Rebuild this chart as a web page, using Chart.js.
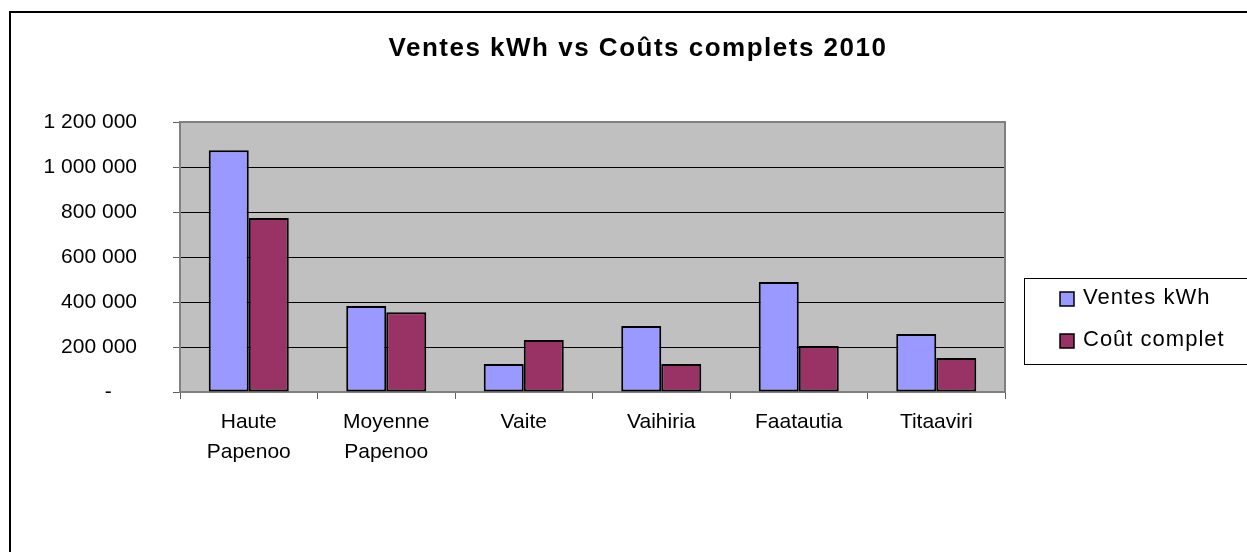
<!DOCTYPE html>
<html>
<head>
<meta charset="utf-8">
<script src="https://cdn.jsdelivr.net/npm/chart.js@4"></script>
<style>
  body { margin: 0; background: white; }
  #wrap { width: 1247px; height: 552px; }
</style>
</head>
<body>
<div id="wrap"><canvas id="myChart" width="1247" height="552"></canvas></div>
<script>
const titre = "Ventes kWh vs Coûts complets 2010";
const centrales = [["Haute", "Papenoo"], ["Moyenne", "Papenoo"], "Vaite", "Vaihiria", "Faatautia", "Titaaviri"];
const ventesKwh = [1075000, 382000, 124000, 293000, 489000, 258000];
const coutComplet = [773000, 355000, 231000, 124000, 204000, 151000];
const yTicks = [0, 200000, 400000, 600000, 800000, 1000000, 1200000];

const formatNombre = (v) => {
  if (v === 0) return "-\u2002\u2002\u2009";
  return v.toString().replace(/\B(?=(\d{3})+(?!\d))/g, " ");
}

// fond gris, cadre du graphique, titre et légende
const decor = {
  id: "decor",
  beforeDraw(chart) {
    const { ctx, chartArea } = chart;
    ctx.save();
    ctx.fillStyle = "white";
    ctx.fillRect(0, 0, chart.width, chart.height);
    ctx.strokeStyle = "black";
    ctx.lineWidth = 2;
    ctx.strokeRect(10, 12, 1300, 600);
    ctx.fillStyle = "#C0C0C0";
    ctx.fillRect(chartArea.left, chartArea.top, chartArea.right - chartArea.left, chartArea.bottom - chartArea.top);

    ctx.fillStyle = "black";
    ctx.font = "bold 26px 'Liberation Sans', Arial, sans-serif";
    ctx.letterSpacing = "1.5px";
    ctx.textAlign = "center";
    ctx.textBaseline = "middle";
    ctx.fillText(titre, 638, 49);
    ctx.restore();
  },
  beforeDatasetsDraw(chart) {
    const { ctx, chartArea } = chart;
    ctx.save();
    ctx.strokeStyle = "#808080";
    ctx.lineWidth = 2;
    ctx.strokeRect(chartArea.left, chartArea.top, chartArea.right - chartArea.left, chartArea.bottom - chartArea.top);
    ctx.restore();
  },
  afterDraw(chart) {
    const { ctx } = chart;
    ctx.save();
    ctx.strokeStyle = "black";
    ctx.lineWidth = 1;
    ctx.strokeRect(1024.5, 278.5, 300, 86);
    ctx.font = "22px 'Liberation Sans', Arial, sans-serif";
    ctx.letterSpacing = "1px";
    ctx.textAlign = "left";
    ctx.textBaseline = "middle";
    chart.data.datasets.forEach((ds, i) => {
      const y = 299 + i * 42;
      ctx.fillStyle = ds.backgroundColor;
      ctx.fillRect(1060, y - 7, 14, 14);
      ctx.lineWidth = 1.5;
      ctx.strokeRect(1060, y - 7, 14, 14);
      ctx.fillStyle = "black";
      ctx.fillText(ds.label, 1083, y - 1);
    });
    ctx.restore();
  }
};

const data = {
  labels: centrales,
  datasets: [
    {
      label: "Ventes kWh",
      data: ventesKwh,
      backgroundColor: "#9999FF",
      borderColor: "black",
      borderWidth: 2,
      borderSkipped: false
    },
    {
      label: "Coût complet",
      data: coutComplet,
      backgroundColor: "#993366",
      borderColor: "black",
      borderWidth: 2,
      borderSkipped: false
    }
  ]
};

const config = {
  type: "bar",
  data,
  options: {
    responsive: false,
    animation: false,
    layout: { padding: { top: 122, right: 242, left: 0, bottom: 0 } },
    datasets: { bar: { categoryPercentage: 0.582, barPercentage: 1 } },
    plugins: {
      legend: { display: false },
      title: { display: false },
      tooltip: { enabled: false }
    },
    scales: {
      x: {
        afterFit: (scale) => { scale.height = 160; },
        grid: {
          offset: true,
          drawOnChartArea: false,
          tickLength: 7,
          color: "#606060"
        },
        border: { display: true, color: "#808080", width: 2 },
        ticks: {
          color: "black",
          padding: 8,
          font: { family: "'Liberation Sans', Arial, sans-serif", size: 21, lineHeight: 1.45 }
        }
      },
      y: {
        min: 0,
        max: 1200000,
        afterFit: (scale) => { scale.width = 180; },
        afterBuildTicks: (scale) => { scale.ticks = yTicks.map(v => ({ value: v })); },
        grid: {
          color: (c) => c.tick && c.tick.value === 1200000 ? "#808080" : "black",
          tickColor: "#606060",
          tickLength: 7
        },
        border: { display: true, color: "#808080", width: 2 },
        ticks: {
          color: "black",
          padding: 36,
          callback: (v) => formatNombre(v),
          font: { family: "'Liberation Sans', Arial, sans-serif", size: 21 }
        }
      }
    }
  },
  plugins: [decor]
};

const myChart = document.getElementById("myChart");
const chartInstance = new Chart(myChart, config);
</script>
</body>
</html>
